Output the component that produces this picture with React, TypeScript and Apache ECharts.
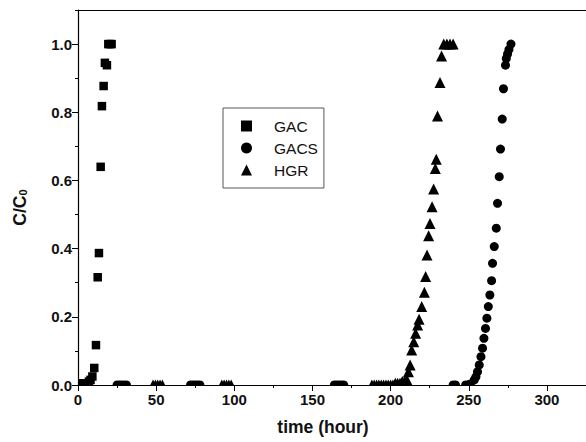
import React, { useEffect, useRef } from "react";
import * as echarts from "echarts";

const FONT = "'Liberation Sans', Arial, sans-serif";

const seriesNames = ["GAC", "GACS", "HGR"];
const xMajorTicks = [0, 50, 100, 150, 200, 250, 300];
const yMajorTicks = [0, 0.2, 0.4, 0.6, 0.8, 1.0];

const gacTime = [0, 1, 2, 3, 4, 5, 6, 7, 8, 9.2, 10.4, 11.5, 12.6, 13.4, 14.5, 15.3, 16.4, 17.2, 18.5, 19.4, 20.5, 21.5];
const gacRatio = [0.005, 0.005, 0.005, 0.005, 0.005, 0.005, 0.005, 0.01, 0.015, 0.025, 0.05, 0.117, 0.316, 0.387, 0.64, 0.818, 0.877, 0.945, 0.938, 1.0, 1.0, 1.0];

const gacsTime = [
  25, 26.5, 28, 29.5, 31,
  72, 73.5, 75, 76.5, 78,
  164, 165.5, 167, 168.5, 170,
  240, 241.5, 248, 249.5, 251,
  253.5, 254.6, 255.6, 256.7, 257.8, 258.8, 259.7, 260.7, 261.6, 262.5, 263.5, 264.6, 265.2, 266.3,
  267.6, 268.4, 269.5, 270.3, 271.4, 272.2, 273.5, 274, 274.8, 275.7, 277,
];
const gacsRatio = [
  0, 0, 0, 0, 0,
  0, 0, 0, 0, 0,
  0, 0, 0, 0, 0,
  0, 0, 0, 0, 0.003,
  0.015, 0.024, 0.039, 0.059, 0.083, 0.108, 0.137, 0.166, 0.196, 0.23, 0.264, 0.306, 0.357, 0.406,
  0.46, 0.533, 0.611, 0.692, 0.78, 0.869, 0.938, 0.958, 0.971, 0.984, 1.0,
];

const hgrTime = [
  48, 49.5, 51, 52.5, 54,
  92, 93.5, 95, 96.5, 98,
  188, 189.5, 191, 192.5, 194, 195.5, 197, 198.5, 200, 201.5, 203, 204.5, 206,
  207.5, 209, 210.5, 211.4, 212.5, 213.5, 214.8, 216, 217.3, 218.2, 219.9, 221.6, 222.4, 223.3,
  224.3, 225.2, 226.5, 227.5, 228.6, 229.2, 230, 231.6, 232.6, 234, 236, 238, 240,
];
const hgrRatio = [
  0, 0, 0, 0, 0,
  0, 0, 0, 0, 0,
  0, 0, 0, 0, 0, 0, 0, 0, 0, 0, 0.005, 0.005, 0.005,
  0.01, 0.012, 0.015, 0.039, 0.059, 0.103, 0.127, 0.152, 0.176, 0.193, 0.23, 0.272, 0.318, 0.381,
  0.438, 0.474, 0.523, 0.575, 0.635, 0.662, 0.789, 0.887, 0.965, 1.0, 1.0, 1.0, 1.0,
];

const zip = (xs: number[], ys: number[]) => xs.map((x, i) => [x, ys[i]]);

export default function App() {
  const ref = useRef<HTMLDivElement>(null);
  useEffect(() => {
    document.body.style.margin = "0";
    if (!ref.current) return;
    const chart = echarts.init(ref.current, null, { renderer: "svg" });
    const axisColor = "#000";
    const labelStyle = { fontFamily: FONT, fontWeight: "bold" as const, fontSize: 15, color: "#111" };
    const markerStyle = { color: "#000", opacity: 1 };
    chart.setOption({
      animation: false,
      backgroundColor: "#fff",
      grid: { left: 78, right: -1, top: 10, bottom: 57 },
      legend: {
        orient: "vertical",
        left: 223,
        top: 108,
        padding: [10, 6, 10, 18],
        itemWidth: 11,
        itemHeight: 11,
        itemGap: 6,
        borderColor: "#555",
        borderWidth: 1,
        textStyle: { fontFamily: FONT, fontSize: 15.5, color: "#111", padding: [0, 0, 0, 17] },
        data: seriesNames,
      },
      xAxis: [
        {
          type: "value", min: 0, max: 325, interval: 25, position: "bottom", z: 5,
          axisLine: { onZero: false, lineStyle: { color: axisColor, width: 1.2 } },
          axisTick: { length: 3, lineStyle: { color: axisColor } },
          axisLabel: { show: false },
          splitLine: { show: false },
        },
        {
          type: "value", min: 0, max: 325, position: "bottom", z: 5,
          axisLine: { show: false, onZero: false },
          axisTick: { show: true, length: 6, customValues: xMajorTicks, lineStyle: { color: axisColor } },
          axisLabel: { ...labelStyle, margin: 7, customValues: xMajorTicks },
          splitLine: { show: false },
          name: "time (hour)",
          nameLocation: "middle",
          nameGap: 33,
          nameTextStyle: { fontFamily: FONT, fontWeight: "bold", fontSize: 17.5, color: "#111", padding: [0, 18, 0, 0] },
        },
        {
          type: "value", min: 0, max: 325, position: "top", z: 5,
          axisLine: { onZero: false, lineStyle: { color: axisColor, width: 1.2 } },
          axisTick: { show: false },
          axisLabel: { show: false },
          splitLine: { show: false },
        },
      ],
      yAxis: [
        {
          type: "value", min: 0, max: 1.1, interval: 0.1, position: "left", z: 5,
          axisLine: { show: true, onZero: false, lineStyle: { color: axisColor, width: 1.2 } },
          axisTick: { show: true, length: 3, lineStyle: { color: axisColor } },
          axisLabel: { show: false },
          splitLine: { show: false },
        },
        {
          type: "value", min: 0, max: 1.1, position: "left", z: 5,
          axisLine: { show: false, onZero: false },
          axisTick: { show: true, length: 6, customValues: yMajorTicks, lineStyle: { color: axisColor } },
          axisLabel: {
            ...labelStyle, margin: 6, customValues: yMajorTicks,
            formatter: (v: number) => v.toFixed(1),
          },
          splitLine: { show: false },
          name: "{a|C/C}{s|0}",
          nameLocation: "middle",
          nameRotate: 90,
          nameGap: 50,
          nameTextStyle: {
            rich: {
              a: { fontFamily: FONT, fontWeight: "bold", fontSize: 17.5, color: "#111", lineHeight: 17, verticalAlign: "top" },
              s: { fontFamily: FONT, fontWeight: "bold", fontSize: 11, color: "#111", lineHeight: 11, verticalAlign: "bottom", padding: [9, 20, 0, 0] },
            },
          },
        },
      ],
      graphic: [
        { type: "rect", z: 3, shape: { x: 0, y: 385.5, width: 586, height: 14 }, style: { fill: "#fff" } },
        { type: "rect", z: 3, shape: { x: 62, y: 0, width: 16, height: 386 }, style: { fill: "#fff" } },
      ],
      series: [
        {
          name: "GAC", type: "scatter", symbol: "rect", symbolSize: 8.5,
          itemStyle: markerStyle, data: zip(gacTime, gacRatio),
        },
        {
          name: "GACS", type: "scatter", symbol: "circle", symbolSize: 9,
          itemStyle: markerStyle, data: zip(gacsTime, gacsRatio),
        },
        {
          name: "HGR", type: "scatter", symbol: "triangle", symbolSize: 11,
          itemStyle: markerStyle, data: zip(hgrTime, hgrRatio),
        },
      ],
    });
    return () => chart.dispose();
  }, []);
  return <div ref={ref} style={{ position: "fixed", left: 0, top: 0, width: 586, height: 442 }} />;
}
